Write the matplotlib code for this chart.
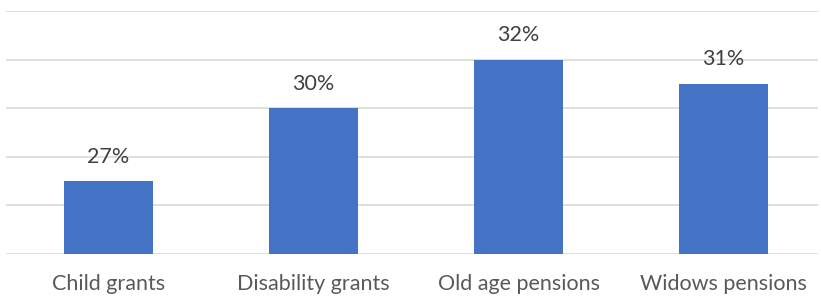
import matplotlib
matplotlib.use("Agg")
import matplotlib.pyplot as plt

categories = ["Child grants", "Disability grants", "Old age pensions", "Widows pensions"]
values = [27, 30, 32, 31]
value_labels = ["27%", "30%", "32%", "31%"]
y_min, y_max, y_step = 24, 34, 2

plt.rcParams['font.family'] = ['Lato', 'DejaVu Sans']

fig = plt.figure(figsize=(8.21, 2.97), dpi=100)
ax = fig.add_axes([6/821, 43/297, 812/821, 243/297])
x = list(range(len(categories)))
ax.bar(x, [v - y_min for v in values], bottom=y_min, width=0.437, color="#4472C4", zorder=3)
ax.set_xlim(-0.5, len(categories) - 0.54)
ax.set_ylim(y_min, y_max)
ax.set_yticks(range(y_min, y_max + 1, y_step))
ax.yaxis.grid(True, color="#d9d9d9", linewidth=1.2, zorder=0)
ax.tick_params(left=False, labelleft=False, bottom=False)
for s in ax.spines.values():
    s.set_visible(False)
ax.set_xticks(x)
ax.set_xticklabels(categories, fontsize=15.5, color="#595959")
ax.tick_params(axis='x', pad=11)
for xi, v, lab in zip(x, values, value_labels):
    ax.annotate(lab, (xi, v), xytext=(0, 10.5), textcoords="offset points",
                ha="center", va="bottom", fontsize=15.5, color="#404040")
fig.savefig("out.png", dpi=100)
